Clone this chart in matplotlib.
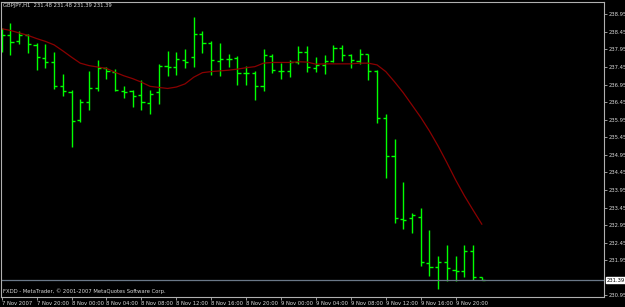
import matplotlib
matplotlib.use('Agg')
import matplotlib.pyplot as plt

# GBPJPY H1 bars, 7 Nov 2007 16:00 .. 9 Nov 2007 23:00
opens = [238.37, 238.37, 238.19, 238.36, 238.08, 237.72, 237.58, 236.90, 236.75, 235.94,
         236.45, 236.86, 237.41, 237.30, 236.77, 236.77, 236.65, 236.43, 236.73, 237.48,
         237.44, 237.65, 237.73, 238.39, 238.12, 237.63, 237.68, 237.70, 237.27, 237.27,
         236.92, 237.77, 237.35, 237.35, 237.58, 237.89, 237.43, 237.52, 237.62, 237.99,
         237.79, 237.62, 237.83, 237.34, 236.01, 234.93, 233.12, 233.15, 233.19, 231.87,
         231.75, 231.89, 231.67, 231.66, 232.22, 231.48]
highs = [238.55, 238.69, 238.47, 238.39, 238.12, 238.11, 237.87, 237.24, 236.79, 236.54,
         237.34, 237.65, 237.44, 237.39, 236.92, 236.80, 237.07, 236.80, 237.54, 237.90,
         237.87, 237.97, 238.86, 238.47, 238.19, 238.12, 237.82, 237.76, 237.49, 237.34,
         237.97, 237.82, 237.57, 237.64, 238.04, 238.04, 237.73, 237.78, 238.07, 238.07,
         237.83, 237.95, 237.83, 237.37, 236.11, 235.39, 234.17, 233.29, 233.43, 232.81,
         232.07, 232.38, 232.07, 232.39, 232.38, 231.48]
lows = [237.89, 237.78, 238.10, 237.86, 237.37, 237.41, 236.82, 236.63, 235.18, 235.88,
        236.23, 236.78, 237.11, 236.78, 236.58, 236.32, 236.23, 236.11, 236.39, 237.20,
        237.22, 237.41, 237.44, 237.86, 237.21, 237.19, 237.44, 236.94, 236.94, 236.50,
        236.78, 237.27, 237.12, 237.18, 237.54, 237.30, 237.30, 237.24, 237.60, 237.61,
        237.43, 237.53, 237.08, 235.85, 234.28, 233.00, 232.84, 232.72, 231.80, 231.51,
        231.13, 231.36, 231.36, 231.48, 231.39, 231.39]
closes = [238.37, 238.17, 238.36, 238.10, 237.74, 237.60, 236.92, 236.77, 235.92, 236.45,
          236.84, 237.41, 237.34, 236.81, 236.75, 236.63, 236.45, 236.68, 237.49, 237.44,
          237.67, 237.58, 238.39, 238.12, 237.65, 237.67, 237.69, 237.28, 237.28, 236.92,
          237.80, 237.37, 237.33, 237.58, 237.89, 237.44, 237.52, 237.63, 237.99, 237.79,
          237.64, 237.81, 237.34, 236.01, 234.93, 233.15, 233.11, 233.23, 231.89, 231.75,
          231.89, 231.72, 231.65, 232.22, 231.47, 231.39]
# moving average (red line)
ma = [238.54, 238.49, 238.42, 238.35, 238.26, 238.18, 238.08, 237.91, 237.73, 237.56,
      237.49, 237.45, 237.41, 237.30, 237.20, 237.12, 237.02, 236.90, 236.87, 236.84,
      236.88, 236.97, 237.16, 237.29, 237.32, 237.34, 237.36, 237.39, 237.43, 237.46,
      237.56, 237.58, 237.58, 237.58, 237.60, 237.59, 237.53, 237.54, 237.54, 237.54,
      237.54, 237.56, 237.56, 237.51, 237.32, 237.03, 236.72, 236.37, 236.02, 235.63,
      235.20, 234.73, 234.24, 233.79, 233.38, 232.98]

time_labels = ['7 Nov 2007', '7 Nov 20:00', '8 Nov 00:00', '8 Nov 04:00', '8 Nov 08:00',
               '8 Nov 12:00', '8 Nov 16:00', '8 Nov 20:00', '9 Nov 00:00', '9 Nov 04:00',
               '9 Nov 08:00', '9 Nov 12:00', '9 Nov 16:00', '9 Nov 20:00']
price_labels = ['238.95', '238.45', '237.95', '237.45', '236.95', '236.45', '235.95', '235.45',
                '234.95', '234.45', '233.95', '233.45', '232.95', '232.45', '231.95', '230.95']
last_price = 231.39

fig = plt.figure(figsize=(6.25, 3.07), dpi=100, facecolor='black')
ax = fig.add_axes([1 / 625, 10 / 307, 603 / 625, 295.5 / 307])
ax.set_facecolor('black')

n = len(opens)
xs = list(range(n))
w = 0.36
ax.vlines(xs, lows, highs, color='#00ff00', lw=1.0)
ax.hlines(opens, [x - w for x in xs], xs, color='#00ff00', lw=1.0)
ax.hlines(closes, xs, [x + w for x in xs], color='#00ff00', lw=1.0)
ax.plot(xs, ma, color='#8a0000', lw=0.9)

# current price line
ax.axhline(last_price, color='#6a7888', lw=0.9)

ax.set_xlim(-0.08, 69.0)
ax.set_ylim(230.907, 239.314)

for s in ax.spines.values():
    s.set_color('#b0b0b0')
    s.set_linewidth(0.8)

ax.yaxis.tick_right()
ax.set_yticks([float(p) for p in price_labels])
ax.set_yticklabels(price_labels)
ax.tick_params(axis='y', colors='#b0b0b0', labelcolor='#d8d8d8', labelsize=3.8,
               length=2, width=0.6, pad=1)

ax.set_xticks(list(range(0, 56, 4)))
ax.set_xticklabels(time_labels, ha='left')
ax.tick_params(axis='x', colors='#b0b0b0', labelcolor='#d8d8d8', labelsize=3.8,
               length=2.5, width=0.6, pad=0.5)

# last price box
ax.text(1.004, last_price, '231.39', transform=ax.get_yaxis_transform(),
        fontsize=3.8, color='black', va='center', ha='left',
        bbox=dict(boxstyle='square,pad=0.15', fc='white', ec='white'))

fig.text(3 / 625, 1 - 5 / 307, 'GBPJPY,H1  231.48 231.48 231.39 231.39', fontsize=3.8,
         color='#d8d8d8', va='center', ha='left')
fig.text(3 / 625, 1 - 291 / 307, 'FXDD - MetaTrader, © 2001-2007 MetaQuotes Software Corp.',
         fontsize=3.8, color='#d8d8d8', va='center', ha='left')

fig.savefig('out.png', dpi=100, facecolor='black')
